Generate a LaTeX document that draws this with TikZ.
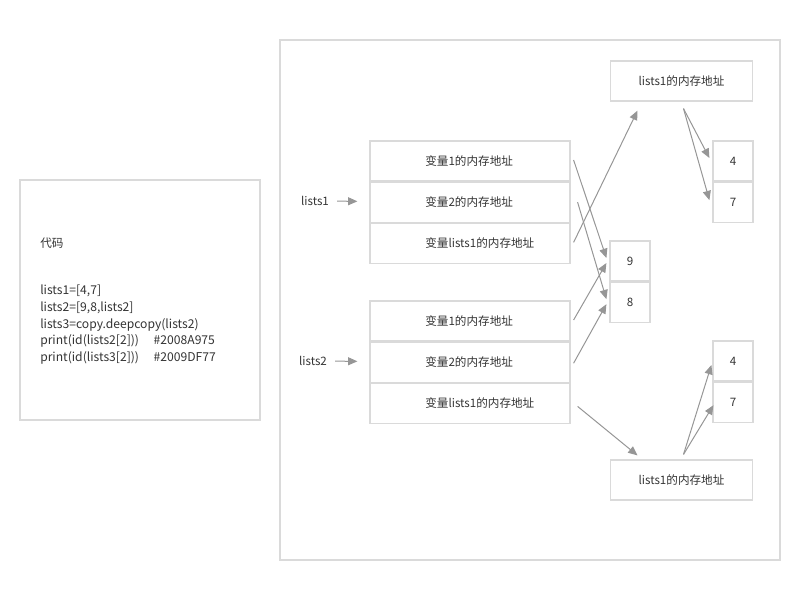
\documentclass[tikz,border=0pt]{standalone}
\usepackage{fontspec}
\setmainfont{Noto Sans CJK SC}
\usetikzlibrary{positioning,arrows.meta}
\definecolor{mmline}{RGB}{218,218,218}
\definecolor{mmarrow}{RGB}{150,150,150}
\definecolor{mmtext}{RGB}{51,51,51}
\tikzset{
  framebox/.style={draw=mmline,line width=0.9pt},
  cellbox/.style={draw=mmline,line width=0.9pt,inner sep=0pt,text=mmtext,
    font=\fontsize{8.7}{10}\selectfont},
  rowbox/.style={cellbox,minimum width=150pt,minimum height=30pt,text width=150pt,
    align=left,execute at begin node=\hspace*{41.5pt}},
  valbox/.style={cellbox,minimum width=30pt,minimum height=30pt},
  addrbox/.style={cellbox,minimum width=107pt,minimum height=30pt},
  plain/.style={text=mmtext,inner sep=0pt,font=\fontsize{8.7}{10}\selectfont},
  ptr/.style={draw=mmarrow,line width=0.75pt,-{Triangle[length=7pt,width=6pt]}},
}
\newcommand{\addrstack}[4]{%
  \node[rowbox] (#1a) at (#2,#3) {变量1的内存地址};
  \node[rowbox,below=0pt of #1a] (#1b) {变量2的内存地址};
  \node[rowbox,below=0pt of #1b] (#1c) {变量lists1的内存地址};
  \node[plain] (#1name) at (#4,#3+40) {lists#1};
  \draw[ptr,shorten <=6pt,shorten >=9pt] (#1name) -- (#1b);}

\begin{document}
\begin{tikzpicture}[x=0.75pt,y=-0.75pt]
  \useasboundingbox (0,0) rectangle (800,600);
  % code
  \node[framebox,minimum width=180pt,minimum height=180pt] (codebox) at (140,300) {};
  \node[plain,anchor=west] (codetitle) at (40,243) {代码};
  \node[plain,anchor=north west,align=left,font=\fontsize{9.1}{12.5}\selectfont]
    (codetext) at (40,285) {lists1=[4,7]\\lists2=[9,8,lists2]\\lists3=copy.deepcopy(lists2)\\
    print(id(lists2[2]))\hspace{11pt}\#2008A975\\print(id(lists3[2]))\hspace{11pt}\#2009DF77};
  % memory
  \node[framebox,minimum width=375pt,minimum height=390pt] (membox) at (530,300) {};
  \addrstack{1}{470}{161}{315}
  \addrstack{2}{470}{321}{313}
  \node[addrbox] (topaddr) at (681.5,81) {lists1的内存地址};
  \node[addrbox] (botaddr) at (681.5,480) {lists1的内存地址};
  \node[valbox] (top4) at (733,161) {4};
  \node[valbox,below=0pt of top4] (top7) {7};
  \node[valbox] (mid9) at (630,261) {9};
  \node[valbox,below=0pt of mid9] (mid8) {8};
  \node[valbox] (bot4) at (733,361) {4};
  \node[valbox,below=0pt of bot4] (bot7) {7};
  % pointers
  \draw[ptr] ([shift={(3,-1)}]1a.east) -- ([shift={(-3,-3)}]mid9.west);
  \draw[ptr] ([shift={(7,0)}]1b.east) -- ([shift={(-3,-3)}]mid8.west);
  \draw[ptr] ([shift={(3,-1)}]1c.east) -- ([shift={(-44,9)}]topaddr.south);
  \draw[ptr] ([shift={(3,-1)}]2a.east) -- ([shift={(-3,2)}]mid9.west);
  \draw[ptr] ([shift={(3,1)}]2b.east) -- ([shift={(-3,2)}]mid8.west);
  \draw[ptr] ([shift={(7,3)}]2c.east) -- ([shift={(-44,-4)}]botaddr.north);
  \draw[ptr] ([shift={(2,7)}]topaddr.south) -- ([shift={(-3,-3)}]top4.west);
  \draw[ptr] ([shift={(2,7)}]topaddr.south) -- ([shift={(-3,-2)}]top7.west);
  \draw[ptr] ([shift={(2,-5)}]botaddr.north) -- ([shift={(-1,4)}]bot4.west);
  \draw[ptr] ([shift={(2,-5)}]botaddr.north) -- ([shift={(1,3)}]bot7.west);
\end{tikzpicture}
\end{document}
